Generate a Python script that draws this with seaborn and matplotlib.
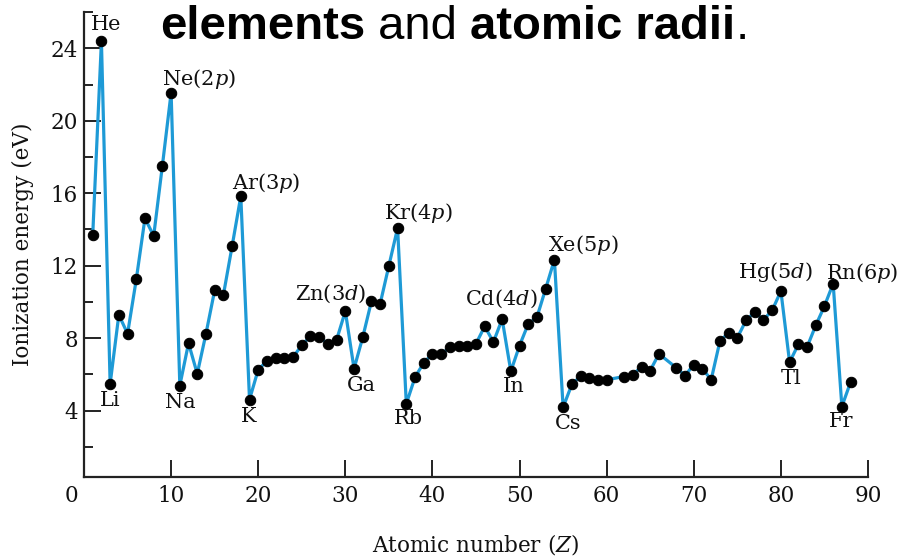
import matplotlib
matplotlib.use("Agg")
import matplotlib.pyplot as plt
import matplotlib.transforms as mtransforms
import seaborn as sns
import pandas as pd

# ---- data ----
atomic_number = [1, 2, 3, 4, 5, 6, 7, 8, 9, 10,
                 11, 12, 13, 14, 15, 16, 17, 18, 19, 20,
                 21, 22, 23, 24, 25, 26, 27, 28, 29, 30,
                 31, 32, 33, 34, 35, 36, 37, 38, 39, 40,
                 41, 42, 43, 44, 45, 46, 47, 48, 49, 50,
                 51, 52, 53, 54, 55, 56, 57, 58, 59, 60,
                 62, 63, 64, 65, 66, 68, 69, 70,
                 71, 72, 73, 74, 75, 76, 77, 78, 79, 80,
                 81, 82, 83, 84, 85, 86, 87, 88]
ionization_ev = [13.68, 24.40, 5.47, 9.29, 8.24, 11.24, 14.62, 13.64, 17.53, 21.55,
                 5.38, 7.72, 6.03, 8.24, 10.64, 10.38, 13.07, 15.84, 4.61, 6.26,
                 6.74, 6.89, 6.89, 6.95, 7.61, 8.11, 8.04, 7.70, 7.91, 9.49,
                 6.31, 8.05, 10.04, 9.90, 12.00, 14.08, 4.37, 5.84, 6.64, 7.13,
                 7.10, 7.50, 7.54, 7.54, 7.69, 8.65, 7.78, 9.05, 6.17, 7.59,
                 8.79, 9.16, 10.73, 12.33, 4.18, 5.44, 5.90, 5.81, 5.68, 5.70,
                 5.88, 5.97, 6.43, 6.21, 7.13, 6.36, 5.93, 6.54,
                 6.30, 5.71, 7.83, 8.30, 8.02, 8.98, 9.44, 9.01, 9.53, 10.60,
                 6.67, 7.65, 7.50, 8.70, 9.77, 11.01, 4.22, 5.57]

label_z = [2, 10, 18, 36, 30, 31, 37, 19, 3, 11, 48, 49, 54, 55, 80, 86, 81, 87]
label_text = ["He", "Ne(2$p$)", "Ar(3$p$)", "Kr(4$p$)", "Zn(3$d$)", "Ga", "Rb", "K",
              "Li", "Na", "Cd(4$d$)", "In", "Xe(5$p$)", "Cs", "Hg(5$d$)", "Rn(6$p$)",
              "Tl", "Fr"]
label_dx = [5, 28, 25, 21, -15, 7, 2, -1, 0, 0, -1, 3, 29, 5, -5, 29, 2, -1]
label_dy = [17, 14, 13, 15, 17, -17, -15, -17, -17, -17, 20, -15, 15, -16, 19, 11, -16, -15]

x_ticks = [0, 10, 20, 30, 40, 50, 60, 70, 80, 90]
y_major = [4, 8, 12, 16, 20, 24]
y_minor = [2, 6, 10, 14, 18, 22, 26]

df = pd.DataFrame({"Z": atomic_number, "E": ionization_ev})

# ---- style ----
sns.set_theme(style="white")
plt.rcParams["font.family"] = ["DejaVu Serif"]
plt.rcParams["mathtext.fontset"] = "dejavuserif"

fig = plt.figure(figsize=(9.01, 5.56), dpi=100)
ax = fig.add_axes([84 / 901, (556 - 477) / 556, (868 - 84) / 901, (477 - 12.2) / 556])

line_color = "#1E9AD6"
sns.lineplot(data=df, x="Z", y="E", ax=ax, sort=False, color=line_color,
             linewidth=2.3, marker="o", markersize=7.5,
             markerfacecolor="black", markeredgecolor="black", zorder=3)

ax.set_xlim(0, 90)
ax.set_ylim(0.33, 26)

ax.set_xticks(x_ticks)
ax.set_xticklabels([str(t) for t in x_ticks])
ax.set_yticks(y_major)
ax.set_yticklabels([str(t) for t in y_major])
ax.set_yticks(y_minor, minor=True)

ax.tick_params(axis="both", which="major", direction="in", length=12, width=1.4,
               color="#222222", labelsize=15.5, labelcolor="#111111", left=True, bottom=True)
ax.tick_params(axis="x", which="major", pad=6)
ax.tick_params(axis="y", which="major", pad=4.5)
ax.tick_params(axis="y", which="minor", direction="in", length=6.5, width=1.4,
               color="#222222", left=True)

for s in ["top", "right"]:
    ax.spines[s].set_visible(False)
for s in ["left", "bottom"]:
    ax.spines[s].set_color("#222222")
    ax.spines[s].set_linewidth(1.6)

# shift "0" label left like the reference
lab0 = ax.get_xticklabels()[0]
lab0.set_transform(lab0.get_transform() + mtransforms.ScaledTranslation(-13 / 100, 0, fig.dpi_scale_trans))

ax.set_xlabel("Atomic number ($Z$)", fontsize=15.5, color="#111111", labelpad=18)
ax.set_ylabel("Ionization energy (eV)", fontsize=15.5, color="#111111", labelpad=12)

lookup = dict(zip(atomic_number, ionization_ev))
for z, t, dx, dy in zip(label_z, label_text, label_dx, label_dy):
    ax.annotate(t, xy=(z, lookup[z]), xytext=(dx, dy), textcoords="offset pixels",
                ha="center", va="center", fontsize=15, color="#111111", zorder=4)

# ---- cropped slide title ----
pieces = [("elements", "bold"), (" and ", "normal"), ("atomic radii", "bold"), (".", "normal")]
fig.canvas.draw()
renderer = fig.canvas.get_renderer()
x_px = 160.0
for txt, w in pieces:
    t = fig.text(x_px / 901, (556 - 39) / 556, txt, fontsize=34, fontweight=w,
                 family="Liberation Sans", color="black", va="baseline", ha="left")
    bb = t.get_window_extent(renderer=renderer)
    x_px += bb.width

fig.savefig("out.png", dpi=100)
